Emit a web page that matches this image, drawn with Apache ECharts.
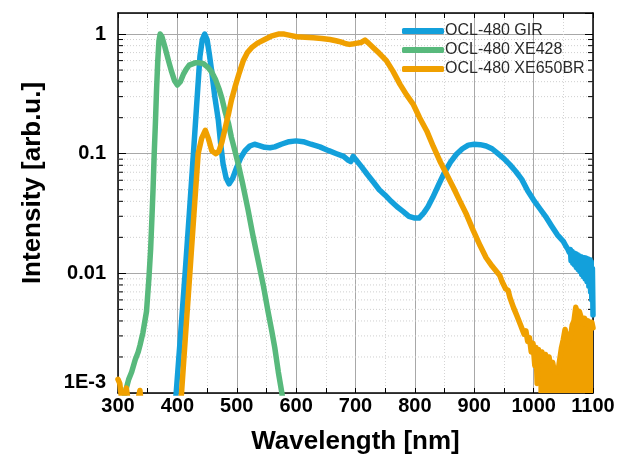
<!DOCTYPE html>
<html>
<head>
<meta charset="utf-8">
<script src="https://cdn.jsdelivr.net/npm/echarts@6/dist/echarts.min.js"></script>
<style>html,body{margin:0;padding:0;background:#fff}#c{width:627px;height:462px}</style>
</head>
<body>
<div id="c"></div>
<script>
// ---- data ----
const seriesNames = ['OCL-480 GIR', 'OCL-480 XE428', 'OCL-480 XE650BR'];

const girNm  = [394,398,405,413,420,427,433,438,442,446,450,454,458,463,469,473,477,482,487,493,500,507,514,522,530,538,547,556,564,575,588,600,612,625,640,655,668,680,688,692,696,700,710,720,730,740,750,760,770,780,790,800,807,815,822,830,840,850,860,870,880,890,900,910,920,930,940,950,960,970,980,990,1000,1010,1020,1030,1040,1050,1054,1058,1060,1062,1063,1065,1066,1068,1069,1071,1072,1074,1075,1077,1078,1080,1081,1083,1084,1086,1087,1089,1090,1092,1093,1095,1096,1097,1098,1099,1100];
const girVal = [0.0006,0.001,0.0029,0.01,0.031,0.1,0.28,0.65,0.9,1.0,0.9,0.67,0.48,0.3,0.19,0.12,0.082,0.063,0.056,0.062,0.077,0.093,0.106,0.116,0.12,0.117,0.113,0.112,0.114,0.12,0.126,0.128,0.126,0.12,0.114,0.106,0.1,0.095,0.088,0.086,0.095,0.09,0.078,0.067,0.058,0.05,0.045,0.04,0.036,0.033,0.03,0.029,0.029,0.032,0.036,0.043,0.055,0.07,0.085,0.099,0.11,0.118,0.12,0.119,0.116,0.11,0.1,0.091,0.081,0.071,0.061,0.049,0.041,0.035,0.03,0.025,0.021,0.0185,0.017,0.0158,0.015,0.0158,0.0128,0.0152,0.0122,0.0148,0.0118,0.0146,0.0112,0.0143,0.0108,0.014,0.0104,0.0138,0.0098,0.0136,0.0094,0.0135,0.009,0.0134,0.0085,0.0132,0.0078,0.013,0.007,0.0125,0.006,0.011,0.0045];

const xe428Nm  = [305,310,313,318,323,329,334,337,342,348,352,355,357,359,361,363,365,367,369,371,374,379,385,390,395,400,405,410,415,420,430,437,444,451,458,464,470,475,480,486,491,497,503,510,519,527,536,545,553,559,564,570,576,580];
const xe428Val = [0.0007,0.0009,0.00105,0.0013,0.0015,0.0019,0.0022,0.0025,0.0032,0.0048,0.009,0.016,0.028,0.05,0.1,0.18,0.35,0.6,0.88,1.0,0.95,0.78,0.6,0.49,0.41,0.375,0.4,0.46,0.51,0.55,0.575,0.575,0.565,0.53,0.48,0.42,0.35,0.29,0.228,0.18,0.137,0.105,0.08,0.056,0.034,0.021,0.0128,0.0078,0.0047,0.0033,0.0024,0.0015,0.001,0.0007];

const xe650Nm  = [300,303,306,310,314,318,322,326,330,334,337,340,345,400,407,414,421,428,435,441,447,452,458,465,470,475,480,486,491,497,504,511,518,525,535,547,558,570,580,592,601,615,629,643,657,667,675,684,690,697,703,709,716,722,730,740,752,763,775,786,797,808,820,831,842,853,865,876,887,898,910,920,930,943,947,950,953,957,960,963,966,969,972,975,978,981,984,987,990,993,996,999,1002,1004,1006,1008];
const xe650Val = [0.0013,0.0012,0.0009,0.0007,0.0011,0.0008,0.0006,0.0009,0.0007,0.0009,0.00105,0.0007,0.0004,0.0004,0.001,0.0032,0.01,0.032,0.1,0.135,0.157,0.135,0.106,0.1,0.105,0.125,0.16,0.214,0.28,0.36,0.47,0.6,0.7,0.77,0.84,0.9,0.96,1.0,1.0,0.97,0.95,0.94,0.93,0.92,0.9,0.88,0.86,0.83,0.82,0.83,0.84,0.85,0.89,0.84,0.77,0.69,0.6,0.49,0.38,0.31,0.26,0.2,0.155,0.115,0.087,0.068,0.052,0.04,0.031,0.023,0.017,0.0135,0.0115,0.0096,0.0085,0.0088,0.0074,0.0072,0.0063,0.0062,0.0052,0.0052,0.0044,0.0045,0.0037,0.0038,0.0031,0.0033,0.0027,0.0029,0.0022,0.0026,0.0017,0.0024,0.0012,0.0023];
// noisy tail of XE650BR (upper envelope of the noise band that reaches below 1E-3)
const xe650TailNm  = [1008,1011,1014,1017,1020,1023,1026,1029,1032,1035,1038,1041,1044,1047,1050,1053,1056,1059,1062,1065,1068,1071,1074,1077,1080,1083,1086,1089,1092,1095,1098,1100];
const xe650TailVal = [0.0023,0.0019,0.0022,0.0018,0.0021,0.0017,0.002,0.0016,0.0018,0.0015,0.0016,0.0015,0.0019,0.0024,0.0028,0.0034,0.0026,0.0031,0.0029,0.0037,0.004,0.0052,0.0045,0.0048,0.0043,0.0038,0.0042,0.0037,0.004,0.0036,0.0039,0.0035];

const yTickVals   = [0.001, 0.01, 0.1, 1];
const yTickLabels = ['1E-3', '0.01', '0.1', '1'];
const yMinorVals  = [0.002,0.003,0.004,0.005,0.006,0.007,0.008,0.009,0.02,0.03,0.04,0.05,0.06,0.07,0.08,0.09,0.2,0.3,0.4,0.5,0.6,0.7,0.8,0.9];

const colors = ['#13a0db', '#58b97c', '#f0a000'];
const FONT = 'Liberation Sans, Arial, sans-serif';

function zip(a, b) { return a.map((v, i) => [v, b[i]]); }

function yLabel(v) {
  for (let i = 0; i < yTickVals.length; i++) {
    if (Math.abs(Math.log10(v) - Math.log10(yTickVals[i])) < 1e-6) {
      return i === 0 ? '{low|' + yTickLabels[i] + '}' : yTickLabels[i];
    }
  }
  return '';
}

const chart = echarts.init(document.getElementById('c'), null, { renderer: 'canvas' });

const lineSeries = [[girNm, girVal], [xe428Nm, xe428Val], [xe650Nm, xe650Val]].map((d, i) => ({
  name: seriesNames[i],
  type: 'line',
  data: zip(d[0], d[1]),
  showSymbol: false,
  symbol: 'none',
  clip: true,
  z: 3 + i,
  lineStyle: { color: colors[i], width: 5.5, cap: 'round', join: 'round' },
  itemStyle: { color: colors[i] }
}));

const tailSeries = {
  name: seriesNames[2],
  type: 'line',
  data: zip(xe650TailNm, xe650TailVal),
  showSymbol: false,
  symbol: 'none',
  clip: true,
  z: 5,
  lineStyle: { color: colors[2], width: 5.5, cap: 'round', join: 'round' },
  itemStyle: { color: colors[2] },
  areaStyle: { color: colors[2], opacity: 1, origin: 'start' }
};

const minorSeries = {
  type: 'custom',
  silent: true,
  z: 1,
  xAxisIndex: 0,
  yAxisIndex: 0,
  data: yMinorVals.map(v => [300, v]),
  renderItem: function (params, api) {
    const y = api.coord([300, api.value(1)])[1];
    const cs = params.coordSys;
    return {
      type: 'group',
      children: [
        { type: 'line', shape: { x1: cs.x, y1: y, x2: cs.x + cs.width, y2: y }, style: { stroke: '#cfcfcf', lineWidth: 1, lineDash: [1, 2] } },
        { type: 'line', shape: { x1: cs.x, y1: y, x2: cs.x + 5, y2: y }, style: { stroke: '#000', lineWidth: 1 } },
        { type: 'line', shape: { x1: cs.x + cs.width - 5, y1: y, x2: cs.x + cs.width, y2: y }, style: { stroke: '#000', lineWidth: 1 } }
      ]
    };
  }
};

const option = {
  animation: false,
  backgroundColor: '#fff',
  grid: { left: 118, right: 34, top: 13, bottom: 69, containLabel: false },
  legend: {
    data: seriesNames,
    orient: 'vertical',
    left: 397,
    top: 18,
    itemWidth: 42,
    itemHeight: 6,
    itemGap: 3,
    icon: 'roundRect',
    textStyle: { fontFamily: FONT, fontSize: 16, color: '#2a2a2a', padding: [0, 0, 0, -4] }
  },
  graphic: [{
    type: 'text',
    x: 33, y: 183,
    rotation: Math.PI / 2,
    style: { text: 'Intensity [arb.u.]', font: 'bold 26px ' + FONT, fill: '#000', align: 'center', verticalAlign: 'middle' }
  }],
  xAxis: [{
    type: 'value', min: 300, max: 1100, interval: 100, position: 'bottom',
    name: 'Wavelength [nm]', nameLocation: 'middle', nameGap: 36,
    nameTextStyle: { fontFamily: FONT, fontWeight: 'bold', fontSize: 26, color: '#000' },
    axisLine: { show: true, lineStyle: { color: '#000', width: 1.5 } },
    axisTick: { show: true, inside: true, length: 5, lineStyle: { color: '#000' } },
    minorTick: { show: true, splitNumber: 2, length: 5, lineStyle: { color: '#000' } },
    splitLine: { show: true, lineStyle: { color: '#a8a8a8', width: 1 } },
    minorSplitLine: { show: true, lineStyle: { color: '#d4d4d4', width: 1, type: [1, 2] } },
    axisLabel: { fontFamily: FONT, fontWeight: 'bold', fontSize: 20, color: '#000', margin: 3, formatter: v => String(v) }
  }, {
    type: 'value', min: 300, max: 1100, interval: 100, position: 'top',
    axisLine: { show: true, lineStyle: { color: '#000', width: 1.5 } },
    axisTick: { show: true, inside: true, length: 5, lineStyle: { color: '#000' } },
    minorTick: { show: true, splitNumber: 2, length: 5, lineStyle: { color: '#000' } },
    splitLine: { show: false },
    axisLabel: { show: false }
  }],
  yAxis: [{
    type: 'log', logBase: 10, min: 0.001, max: 1.5, position: 'left',
    axisLine: { show: true, lineStyle: { color: '#000', width: 1.5 } },
    axisTick: { show: true, inside: true, length: 8, lineStyle: { color: '#000' } },
    splitLine: { show: true, lineStyle: { color: '#a8a8a8', width: 1 } },
    axisLabel: {
      fontFamily: FONT, fontWeight: 'bold', fontSize: 20, color: '#000', margin: 12,
      showMaxLabel: false, formatter: yLabel,
      rich: { low: { fontFamily: FONT, fontWeight: 'bold', fontSize: 20, color: '#000', padding: [0, 0, 22, 0] } }
    }
  }, {
    type: 'log', logBase: 10, min: 0.001, max: 1.5, position: 'right',
    axisLine: { show: true, lineStyle: { color: '#000', width: 1.5 } },
    axisTick: { show: true, inside: true, length: 8, lineStyle: { color: '#000' } },
    splitLine: { show: false },
    axisLabel: { show: false }
  }],
  series: [minorSeries].concat(lineSeries, [tailSeries])
};

chart.setOption(option);
</script>
</body>
</html>
